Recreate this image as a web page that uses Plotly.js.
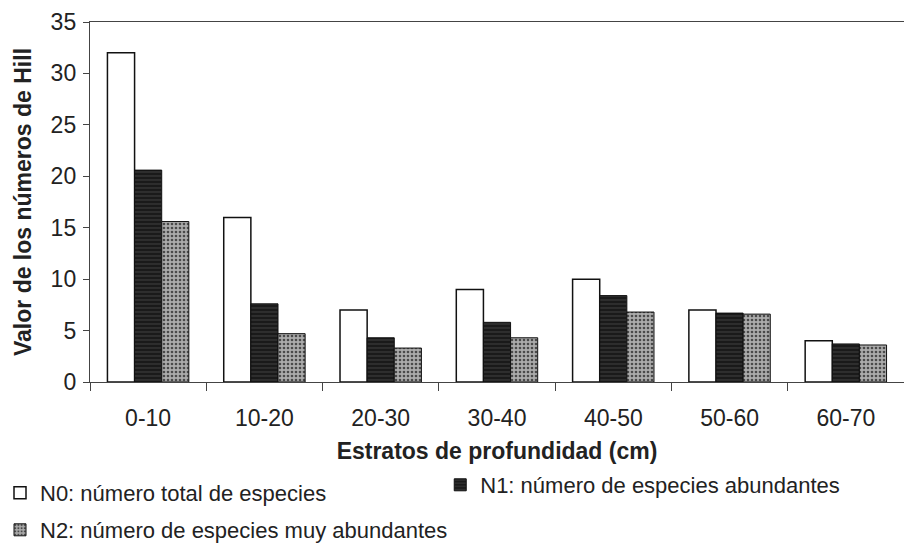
<!DOCTYPE html>
<html>
<head>
<meta charset="utf-8">
<script src="https://cdn.plot.ly/plotly-3.0.1.min.js"></script>
<style>html,body{margin:0;padding:0;background:#fff;}#chart{width:904px;height:546px;}</style>
</head>
<body>
<div id="chart"></div>
<script>
const categories = ["0-10", "10-20", "20-30", "30-40", "40-50", "50-60", "60-70"];
const n0Values = [32, 16, 7, 9, 10, 7, 4];
const n1Values = [20.6, 7.6, 4.3, 5.8, 8.4, 6.7, 3.7];
const n2Values = [15.6, 4.7, 3.3, 4.3, 6.8, 6.6, 3.6];
const seriesNames = ["N0: número total de especies", "N1: número de especies abundantes", "N2: número de especies muy abundantes"];
const yTicks = [0, 5, 10, 15, 20, 25, 30, 35];

const font = "Liberation Sans, Arial, sans-serif";
const traces = [
  {type: "bar", name: seriesNames[0], x: categories, y: n0Values, legend: "legend",
   marker: {color: "#ffffff", line: {color: "#111", width: 1.5}}},
  {type: "bar", name: seriesNames[1], x: categories, y: n1Values, legend: "legend2",
   marker: {color: "#1e1e1e", line: {color: "#111", width: 1},
     pattern: {shape: "-", fgcolor: "#3a3a3a", bgcolor: "#1a1a1a", size: 4, solidity: 0.3}}},
  {type: "bar", name: seriesNames[2], x: categories, y: n2Values, legend: "legend3",
   marker: {color: "#9c9c9c", line: {color: "#111", width: 1},
     pattern: {shape: ".", fgcolor: "#4a4a4a", bgcolor: "#ababab", size: 4, solidity: 0.35}}}
];

function leg(x, yPix) {
  return {
    orientation: "h", xref: "container", yref: "container",
    x: x, y: 1 - yPix / 546, xanchor: "left", yanchor: "middle",
    itemwidth: 30, font: {size: 22, color: "#222"}, bgcolor: "rgba(0,0,0,0)"
  };
}

const layout = {
  width: 904, height: 546,
  margin: {l: 90, r: 0, t: 22, b: 164},
  paper_bgcolor: "#ffffff", plot_bgcolor: "#ffffff",
  font: {family: font, color: "#222", size: 22},
  barmode: "group", bargap: 0.3, bargroupgap: 0,
  showlegend: true,
  xaxis: {
    type: "category", range: [-0.5, 6.5],
    showline: true, linecolor: "#444", linewidth: 1.2, mirror: true,
    ticks: "outside", tickson: "boundaries", ticklen: 8, tickcolor: "#444",
    tickfont: {size: 23, color: "#222"}, ticklabelstandoff: 15,
    showgrid: false, zeroline: false,
    title: {text: "<b>Estratos de profundidad (cm)</b>", font: {size: 23, color: "#222"}, standoff: 16}
  },
  yaxis: {
    range: [0, 35], tickvals: yTicks, ticktext: yTicks.map(String),
    showline: true, linecolor: "#444", linewidth: 1.2,
    ticks: "outside", ticklen: 6, tickcolor: "#444",
    tickfont: {size: 23, color: "#222"}, ticklabelstandoff: 2,
    showgrid: false, zeroline: false,
    title: {text: "<b>Valor de los números de Hill</b>", font: {size: 23, color: "#222"}, standoff: 12}
  },
  legend: leg(0.0, 493),
  legend2: leg(0.487, 485),
  legend3: leg(0.0, 530)
};

Plotly.newPlot("chart", traces, layout, {displayModeBar: false, staticPlot: true});
</script>
</body>
</html>
